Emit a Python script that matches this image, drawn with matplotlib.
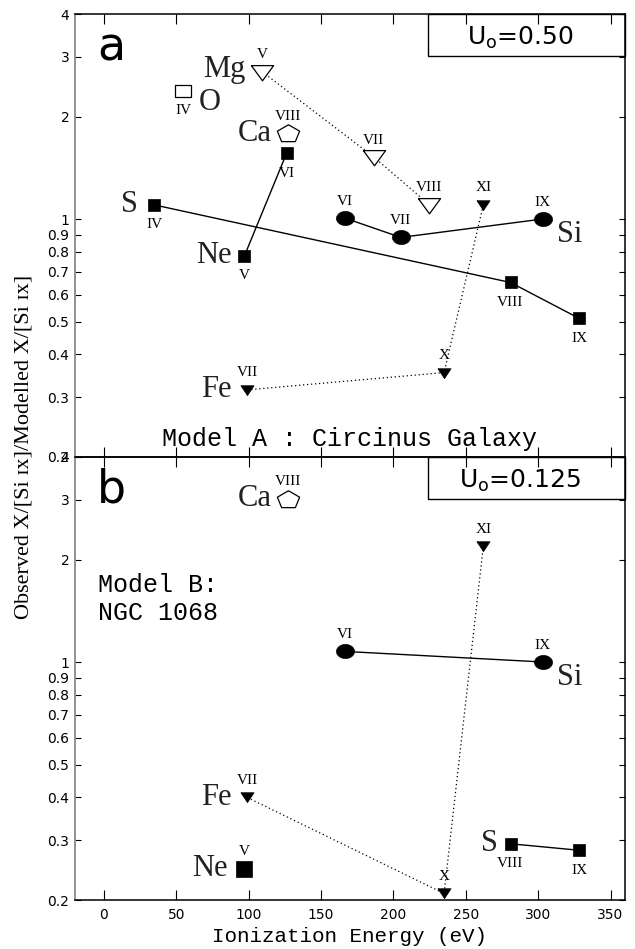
import matplotlib
matplotlib.use('Agg')
import matplotlib.pyplot as plt
import numpy as np
from matplotlib.path import Path
from matplotlib.patches import Rectangle

# ---------------- data ----------------
# Panel a : Model A (Circinus), U0 = 0.50
a_S_energy = [34.8, 280.9, 328.2]
a_S_ratio = [1.10, 0.651, 0.511]
a_S_ions = ['IV', 'VIII', 'IX']

a_Ne_energy = [97.1, 126.2]
a_Ne_ratio = [0.78, 1.56]
a_Ne_ions = ['V', 'VI']

a_Si_energy = [166.8, 205.1, 303.2]
a_Si_ratio = [1.005, 0.883, 1.0]
a_Si_ions = ['VI', 'VII', 'IX']

a_Mg_energy = [109.2, 186.5, 224.9]
a_Mg_ratio = [2.71, 1.52, 1.10]
a_Mg_ions = ['V', 'VII', 'VIII']

a_Fe_energy = [99.0, 235.0, 262.1]
a_Fe_ratio = [0.315, 0.354, 1.10]
a_Fe_ions = ['VII', 'X', 'XI']

a_O_energy = [54.9]
a_O_ratio = [2.38]
a_O_ions = ['IV']

a_Ca_energy = [127.2]
a_Ca_ratio = [1.785]
a_Ca_ions = ['VIII']

# Panel b : Model B (NGC 1068), U0 = 0.125
b_Si_energy = [166.8, 303.2]
b_Si_ratio = [1.074, 1.0]
b_Si_ions = ['VI', 'IX']

b_S_energy = [280.9, 328.2]
b_S_ratio = [0.2925, 0.280]
b_S_ions = ['VIII', 'IX']

b_Fe_energy = [99.0, 235.0, 262.1]
b_Fe_ratio = [0.40, 0.209, 2.185]
b_Fe_ions = ['VII', 'X', 'XI']

b_Ne_energy = [97.1]
b_Ne_ratio = [0.247]
b_Ne_ions = ['V']

b_Ca_energy = [127.2]
b_Ca_ratio = [3.02]
b_Ca_ions = ['VIII']

y_ticks = [0.2, 0.3, 0.4, 0.5, 0.6, 0.7, 0.8, 0.9, 1, 2, 3, 4]
y_tick_labels = ['0.2', '0.3', '0.4', '0.5', '0.6', '0.7', '0.8', '0.9', '1', '2', '3', '4']
x_ticks = [0, 50, 100, 150, 200, 250, 300, 350]

# ---------------- marker shapes ----------------
th = np.linspace(0, 2 * np.pi, 60)
ellipse = Path(np.column_stack([np.cos(th), 0.78 * np.sin(th)]))
tri_down_filled = Path([(-1, 0.72), (1, 0.72), (0, -0.78), (-1, 0.72)])
tri_down_open = Path([(-1, 0.62), (1, 0.62), (0, -0.75), (-1, 0.62)])
ang = np.deg2rad(90 + 72 * np.arange(6))
pentagon = Path(np.column_stack([np.cos(ang), 0.8 * np.sin(ang) - 0.05]))
rect_open = Path([(-1, -0.8), (1, -0.8), (1, 0.8), (-1, 0.8), (-1, -0.8)])

SERIF = ['Liberation Serif', 'DejaVu Serif']
PX = 0.72  # points per pixel at dpi 100

fig = plt.figure(figsize=(6.35, 9.49), dpi=100)
ax1 = fig.add_axes([75 / 635, 1 - 457 / 949, 550 / 635, 443 / 949])
ax2 = fig.add_axes([75 / 635, 1 - 900 / 949, 550 / 635, 443 / 949])


def series(ax, x, y, ions, marker, ms, filled=True, ls='-', ion_pos='above',
           name=None, name_idx=0, name_side='left', name_dx=16, name_dy=0):
    if ls is not None and len(x) > 1:
        if ls == 'dot':
            ax.plot(x, y, color='black', lw=0.9, ls=(0, (1, 2.2)), zorder=2)
        else:
            ax.plot(x, y, color='black', lw=1.0, ls='-', zorder=2)
    ax.plot(x, y, ls='none', marker=marker, ms=ms,
            mfc='black' if filled else 'white', mec='black',
            mew=0.5 if filled else 0.9, zorder=3)
    dy = 17 if ion_pos == 'above' else -20
    for xi, yi, lab in zip(x, y, ions):
        ax.annotate(lab, (xi, yi), xytext=(0, dy * PX), textcoords='offset points',
                    ha='center', va='center', fontsize=11, family=SERIF, zorder=4)
    if name is not None:
        if name_side == 'left':
            ax.annotate(name, (x[name_idx], y[name_idx]),
                        xytext=(-name_dx * PX, name_dy * PX), textcoords='offset points',
                        ha='right', va='center', fontsize=22, family=SERIF, color='#222222')
        else:
            ax.annotate(name, (x[name_idx], y[name_idx]),
                        xytext=(name_dx * PX, name_dy * PX), textcoords='offset points',
                        ha='left', va='center', fontsize=22, family=SERIF, color='#222222')


# ---- panel a ----
series(ax1, a_S_energy, a_S_ratio, a_S_ions, 's', 8.6, ion_pos='below', name='S')
series(ax1, a_Ne_energy, a_Ne_ratio, a_Ne_ions, 's', 8.6, ion_pos='below', name='Ne', name_dx=13)
series(ax1, a_Si_energy, a_Si_ratio, a_Si_ions, ellipse, 13, ion_pos='above', name='Si',
       name_idx=2, name_side='right', name_dx=14, name_dy=-15)
series(ax1, a_Mg_energy, a_Mg_ratio, a_Mg_ions, tri_down_open, 16, filled=False, ls='dot',
       ion_pos='above', name='Mg', name_dy=2)
series(ax1, a_Fe_energy, a_Fe_ratio, a_Fe_ions, tri_down_filled, 9.5, ls='dot',
       ion_pos='above', name='Fe')
series(ax1, a_O_energy, a_O_ratio, a_O_ions, rect_open, 11, filled=False, ls=None,
       ion_pos='below', name='O', name_side='right', name_dx=15, name_dy=-12)
series(ax1, a_Ca_energy, a_Ca_ratio, a_Ca_ions, pentagon, 16, filled=False, ls=None,
       ion_pos='above', name='Ca')

# ---- panel b ----
series(ax2, b_Si_energy, b_Si_ratio, b_Si_ions, ellipse, 13, ion_pos='above', name='Si',
       name_idx=1, name_side='right', name_dx=14, name_dy=-15)
series(ax2, b_S_energy, b_S_ratio, b_S_ions, 's', 8.6, ion_pos='below', name='S', name_dx=13)
series(ax2, b_Fe_energy, b_Fe_ratio, b_Fe_ions, tri_down_filled, 9.5, ls='dot',
       ion_pos='above', name='Fe')
series(ax2, b_Ne_energy, b_Ne_ratio, b_Ne_ions, 's', 11, ion_pos='above', name='Ne', name_dx=17)
series(ax2, b_Ca_energy, b_Ca_ratio, b_Ca_ions, pentagon, 16, filled=False, ls=None,
       ion_pos='above', name='Ca')

# ---- axes styling ----
for ax, show_x in ((ax1, False), (ax2, True)):
    ax.set_yscale('log')
    ax.set_xlim(-20, 360)
    ax.set_ylim(0.2, 4)
    ax.set_yticks(y_ticks)
    ax.set_yticklabels(y_tick_labels)
    ax.yaxis.set_minor_locator(matplotlib.ticker.NullLocator())
    ax.set_xticks(x_ticks)
    if not show_x:
        ax.set_xticklabels([])
    ax.tick_params(axis='x', direction='in', length=7, width=0.8, top=True, bottom=True,
                   labelsize=10, pad=6)
    ax.tick_params(axis='y', direction='in', length=4.5, width=0.8, left=True, right=True,
                   labelsize=10, pad=4)
    for side in ('top', 'bottom', 'right'):
        ax.spines[side].set_linewidth(1.1)
        ax.spines[side].set_color('black')
    ax.spines['left'].set_linewidth(1.3)
    ax.spines['left'].set_color('#8a8a8a')
    for lab in ax.get_xticklabels() + ax.get_yticklabels():
        lab.set_family('DejaVu Sans')
    ax.patch.set_alpha(0)

# U0 boxes
for ax, txt in ((ax1, r'U$_\mathregular{o}$=0.50'), (ax2, r'U$_\mathregular{o}$=0.125')):
    ax.add_patch(Rectangle((0.642, 0.905), 0.358, 0.095, transform=ax.transAxes,
                           fill=False, lw=1.0, ec='black', clip_on=False))
    ax.text(0.81, 0.930, txt, transform=ax.transAxes, ha='center', va='baseline',
            fontsize=18, family='DejaVu Sans')

# panel letters
ax1.text(0.040, 0.896, 'a', transform=ax1.transAxes, fontsize=33, family='DejaVu Sans',
         ha='left', va='baseline')
ax2.text(0.040, 0.8975, 'b', transform=ax2.transAxes, fontsize=33, family='DejaVu Sans',
         ha='left', va='baseline')

MONO = ['Liberation Mono', 'DejaVu Sans Mono']
ax1.text(0.5, 0.025, 'Model A : Circinus Galaxy', transform=ax1.transAxes, ha='center',
         va='baseline', fontsize=18, family=MONO)
ax2.text(0.042, 0.695, 'Model B:', transform=ax2.transAxes, ha='left', va='baseline',
         fontsize=18, family=MONO)
ax2.text(0.042, 0.632, 'NGC 1068', transform=ax2.transAxes, ha='left', va='baseline',
         fontsize=18, family=MONO)

fig.text(350 / 635, 1 - 937 / 949, 'Ionization Energy (eV)', ha='center', va='center',
         fontsize=15, family=MONO)
fig.text(24 / 635, 1 - 447 / 949, 'Observed X/[Si ɪx]/Modelled X/[Si ɪx]', rotation=90,
         ha='center', va='center', fontsize=16, family=SERIF)

fig.savefig('out.png', dpi=100)
